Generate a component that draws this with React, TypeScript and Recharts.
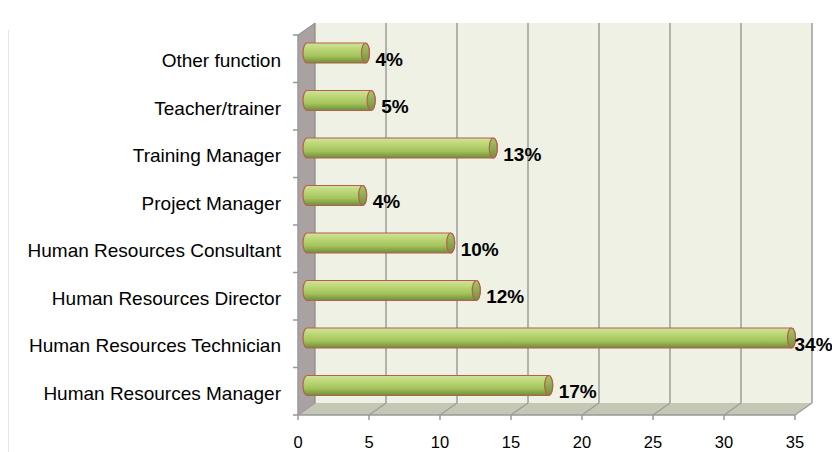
import { BarChart, Bar, XAxis, YAxis } from "recharts"

const categories = [
  "Other function",
  "Teacher/trainer",
  "Training Manager",
  "Project Manager",
  "Human Resources Consultant",
  "Human Resources Director",
  "Human Resources Technician",
  "Human Resources Manager",
]
const shares = [4.4, 4.8, 13.4, 4.2, 10.4, 12.2, 34.4, 17.3]
const xTicks = [0, 5, 10, 15, 20, 25, 30, 35]

const data = categories.map((name, i) => ({ name, value: shares[i] }))

// front face of the 3d box
const W = 832
const H = 452
const LEFT = 298
const RIGHT = 795
const TOP = 35
const BOTTOM = 415
// depth of the box (back wall offset)
const DEPTH_X = 17
const DEPTH_Y = 12
// bars sit a little into the box
const BAR_DX = 5
const BAR_DY = -6
const RX = 4
const X_MAX = 35
const pxPerUnit = (RIGHT - LEFT) / X_MAX
const band = (BOTTOM - TOP) / categories.length

const FONT = "'Liberation Sans', Arial, Helvetica, sans-serif"

function Backdrop() {
  const bl = LEFT + DEPTH_X
  const br = RIGHT + DEPTH_X
  const bt = TOP - DEPTH_Y
  const bb = BOTTOM - DEPTH_Y
  return (
    <svg width={W} height={H} style={{ position: "absolute", left: 0, top: 0 }}>
      <line x1={8.5} y1={30} x2={8.5} y2={H} stroke="#e6e6e6" />
      <rect x={bl} y={bt} width={br - bl} height={bb - bt} fill="#eef1e3" />
      {/* floor */}
      <polygon points={`${LEFT},${BOTTOM} ${bl},${bb} ${br},${bb} ${RIGHT},${BOTTOM}`} fill="#c3c7b4" />
      {/* left wall */}
      <polygon points={`${LEFT},${TOP} ${bl},${bt} ${bl},${bb} ${LEFT},${BOTTOM}`} fill="#aaa2a2" />
      {xTicks.map((t) => {
        const fx = LEFT + t * pxPerUnit
        return (
          <g key={t}>
            {t > 0 && <line x1={fx + DEPTH_X} y1={bt} x2={fx + DEPTH_X} y2={bb} stroke="#9c9c9c" strokeWidth={1.5} />}
            <line x1={fx} y1={BOTTOM} x2={fx + DEPTH_X} y2={bb} stroke="#9c9c9c" strokeWidth={1.2} />
          </g>
        )
      })}
      <line x1={bl} y1={bt} x2={bl} y2={bb} stroke="#8e8888" strokeWidth={1.2} />
      <line x1={LEFT} y1={TOP} x2={bl} y2={bt} stroke="#8e8888" strokeWidth={1} />
      <line x1={LEFT} y1={TOP} x2={LEFT} y2={BOTTOM} stroke="#999" strokeWidth={1.5} />
    </svg>
  )
}

function Cylinder(props: any) {
  const { x, y, width, height } = props
  const top = y + BAR_DY
  const bottom = top + height
  const ry = height / 2
  const x0 = x + BAR_DX + RX
  const x1 = x + width + BAR_DX
  return (
    <g>
      <path
        d={`M${x0},${top} L${x1},${top} A${RX},${ry} 0 0 1 ${x1},${bottom} L${x0},${bottom} A${RX},${ry} 0 0 1 ${x0},${top} Z`}
        fill="url(#cyl)"
        stroke="#b85e4e"
        strokeWidth={1.2}
      />
      <ellipse cx={x1} cy={top + ry} rx={RX} ry={ry} fill="url(#cap)" stroke="#b85e4e" strokeWidth={1.2} />
    </g>
  )
}

function ValueLabel(props: any) {
  const { x, y, width, height, value } = props
  const text = `${Math.round(value)}%`
  const textW = text.length * 12.5
  const lx = Math.min(x + width + BAR_DX + RX + 6, W - textW)
  return (
    <text
      x={lx}
      y={y + height / 2}
      dominantBaseline="central"
      fontFamily={FONT}
      fontSize={19}
      fontWeight="bold"
      fill="#000"
    >
      {text}
    </text>
  )
}

function CategoryTick(props: any) {
  const { x, y, payload, index } = props
  const axisX = x + 17
  return (
    <g>
      <text x={x} y={y + 2} textAnchor="end" dominantBaseline="central" fontFamily={FONT} fontSize={19} fill="#000">
        {payload.value}
      </text>
      <line x1={axisX - 5} y1={y - band / 2} x2={axisX} y2={y - band / 2} stroke="#999" strokeWidth={1.5} />
      {index === categories.length - 1 && (
        <line x1={axisX - 5} y1={y + band / 2} x2={axisX} y2={y + band / 2} stroke="#999" strokeWidth={1.5} />
      )}
    </g>
  )
}

function ValueTick(props: any) {
  const { x, y, payload } = props
  return (
    <text x={x} y={y} textAnchor="middle" dominantBaseline="central" fontFamily={FONT} fontSize={16.5} fill="#000">
      {payload.value}
    </text>
  )
}

export default function App() {
  return (
    <div style={{ position: "absolute", left: 0, top: 0, width: W, height: H, background: "#fff" }}>
      <Backdrop />
      <div style={{ position: "absolute", left: 0, top: 0 }}>
        <BarChart
          width={W}
          height={H}
          data={data}
          layout="vertical"
          margin={{ top: TOP, right: W - RIGHT, bottom: 0, left: 0 }}
        >
          <defs>
            <linearGradient id="cyl" x1="0" y1="0" x2="0" y2="1">
              <stop offset="0%" stopColor="#cfe39a" />
              <stop offset="30%" stopColor="#bcd776" />
              <stop offset="65%" stopColor="#a3c35c" />
              <stop offset="100%" stopColor="#6f8c38" />
            </linearGradient>
            <linearGradient id="cap" x1="0" y1="0" x2="0" y2="1">
              <stop offset="0%" stopColor="#a9c668" />
              <stop offset="100%" stopColor="#74913c" />
            </linearGradient>
          </defs>
          <XAxis
            type="number"
            domain={[0, X_MAX]}
            ticks={xTicks}
            height={H - BOTTOM}
            axisLine={{ stroke: "#999", strokeWidth: 1.5 }}
            tickLine={{ stroke: "#999", strokeWidth: 1.5 }}
            tickSize={5}
            tickMargin={22}
            tick={<ValueTick />}
          />
          <YAxis
            type="category"
            dataKey="name"
            width={LEFT}
            axisLine={false}
            tickLine={false}
            tickSize={0}
            tickMargin={17}
            tick={<CategoryTick />}
            interval={0}
          />
          <Bar
            dataKey="value"
            barSize={20}
            shape={<Cylinder />}
            label={<ValueLabel />}
            isAnimationActive={false}
          />
        </BarChart>
      </div>
    </div>
  )
}
